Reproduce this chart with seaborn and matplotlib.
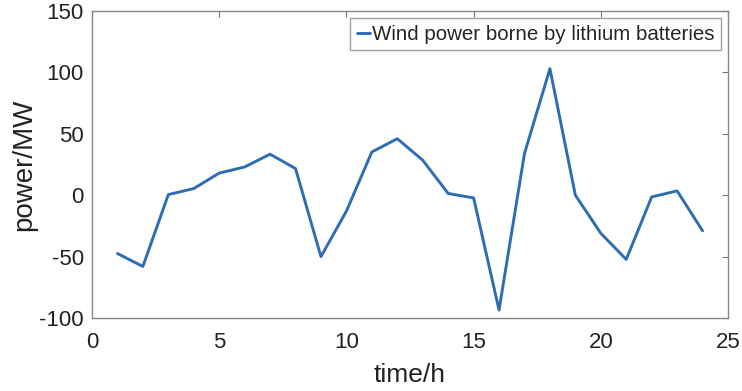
import matplotlib
matplotlib.use("Agg")
import matplotlib.pyplot as plt
import seaborn as sns
import pandas as pd

hours = list(range(1, 25))
power = [-47.5, -58, 0.5, 5.4, 18, 23, 33.4, 21.7, -50, -13, 35.2, 46,
         28.5, 1.4, -2.2, -93.5, 33.9, 103, 0, -31, -52.3, -1.4, 3.5, -29]
series_label = "Wind power borne by lithium batteries"
x_ticks = [0, 5, 10, 15, 20, 25]
y_ticks = [-100, -50, 0, 50, 100, 150]

sns.set_theme(style="white")
plt.rcParams['font.family'] = ['Liberation Sans', 'DejaVu Sans']
plt.rcParams['axes.unicode_minus'] = False

df = pd.DataFrame({"time": hours, "power": power})

fig = plt.figure(figsize=(7.42, 3.91), dpi=100)
ax = fig.add_axes([92/742, 1-318/391, (728-92)/742, (318-11)/391])

sns.lineplot(data=df, x="time", y="power", ax=ax, color="#2f6db3",
             linewidth=2.1, label=series_label)

ax.set_xlim(0, 25)
ax.set_ylim(-100, 150)
ax.set_xticks(x_ticks)
ax.set_yticks(y_ticks)
ax.tick_params(direction="in", length=4, width=0.8, colors="#777777",
               labelcolor="#222222", labelsize=16, top=True, right=True)
ax.tick_params(axis="x", pad=10)
ax.tick_params(axis="y", pad=6)
for s in ax.spines.values():
    s.set_color("#888888")
    s.set_linewidth(1.0)
ax.set_xlabel("time/h", fontsize=19, color="#222222", labelpad=7)
ax.set_ylabel("power/MW", fontsize=20, color="#222222", labelpad=1)

leg = ax.legend(loc="upper right", fontsize=14.75, handlelength=0.65,
                handletextpad=0.08, borderpad=0.32, frameon=True,
                fancybox=False, borderaxespad=0.35)
leg.get_frame().set_edgecolor("#888888")
leg.get_frame().set_linewidth(1.0)

fig.savefig("out.png", dpi=100)
